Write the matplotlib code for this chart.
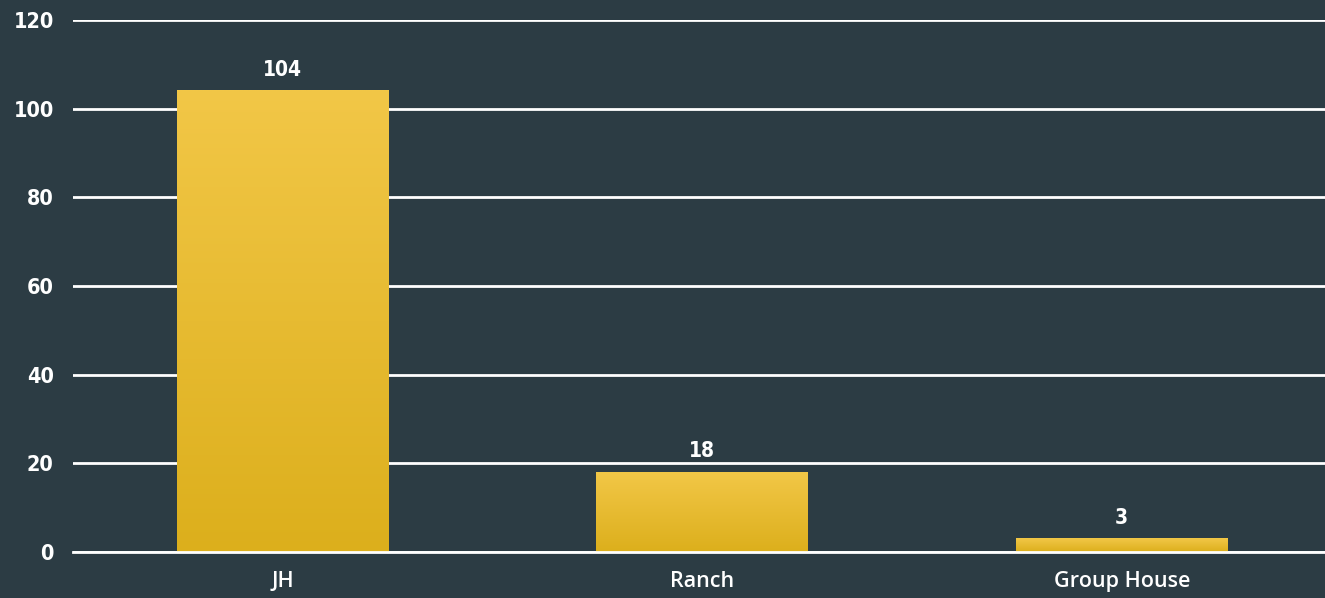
import matplotlib.pyplot as plt
import numpy as np
from matplotlib.colors import LinearSegmentedColormap

categories = ["JH", "Ranch", "Group House"]
values = [104, 18, 3]
y_ticks = [0, 20, 40, 60, 80, 100, 120]

bg = "#2c3c44"
grad = LinearSegmentedColormap.from_list("gold", ["#dcaf1c", "#f2c747"])

fig = plt.figure(figsize=(13.25, 5.98), dpi=100, facecolor=bg)
ax = fig.add_axes([0.0551, 0.0769, 0.9498, 0.8897], facecolor=bg)

x = np.arange(len(categories))
bars = ax.bar(x, values, width=0.505, color="none", zorder=3)

# vertical gradient inside each bar
g = np.linspace(0, 1, 256).reshape(-1, 1)
for b in bars:
    x0, y0 = b.get_x(), b.get_y()
    ax.imshow(g, cmap=grad, origin="lower", aspect="auto", zorder=3,
              extent=[x0, x0 + b.get_width(), y0, y0 + b.get_height()])

for xi, v in zip(x, values):
    ax.text(xi, v + 2.5, str(v), ha="center", va="bottom", color="white",
            fontsize=15, fontweight="bold", family="DejaVu Sans", stretch="condensed")

ax.set_xlim(-0.5, len(categories) - 0.5)
ax.set_ylim(0, 120)
ax.set_yticks(y_ticks)
ax.set_xticks(x)
ax.set_xticklabels(categories, color="white", fontsize=15.5, family="Open Sans",
                   fontweight="semibold")
for lbl in ax.get_yticklabels():
    lbl.set_color("white")
    lbl.set_fontsize(15.5)
    lbl.set_fontweight("bold")
    lbl.set_stretch("condensed")

ax.grid(axis="y", color="white", linewidth=2, zorder=1)
ax.set_axisbelow(True)
ax.tick_params(axis="y", length=0, pad=14)
ax.tick_params(axis="x", length=0, pad=14)
for s in ax.spines.values():
    s.set_visible(False)
ax.axhline(0, color="white", linewidth=2, zorder=4, clip_on=False)

fig.savefig("out.png", facecolor=bg)
